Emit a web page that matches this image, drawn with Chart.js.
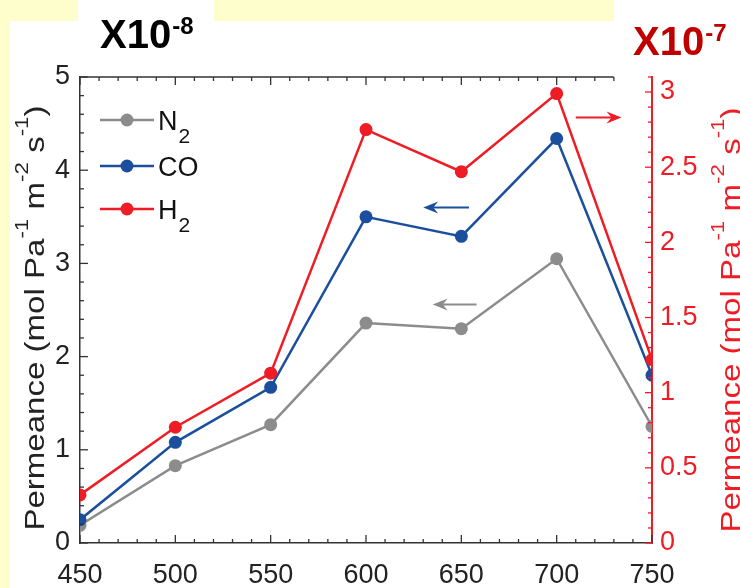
<!DOCTYPE html>
<html>
<head>
<meta charset="utf-8">
<script src="https://cdn.jsdelivr.net/npm/chart.js@4.4.0/dist/chart.umd.min.js"></script>
<style>
  html, body { margin: 0; padding: 0; background: #fff; }
  #wrap { width: 740px; height: 588px; }
</style>
</head>
<body>
<div id="wrap"><canvas id="chart" width="740" height="588"></canvas></div>
<script>
// temperature (x) and permeance values
const temperatures = [450, 500, 550, 600, 650, 700, 750];
const n2Permeance = [0.19, 0.83, 1.27, 2.36, 2.30, 3.05, 1.25]; // x10^-8, left axis
const coPermeance = [0.25, 1.08, 1.67, 3.50, 3.29, 4.34, 1.80]; // x10^-8, left axis
const h2Permeance = [0.32, 0.77, 1.13, 2.75, 2.47, 2.99, 1.22]; // x10^-7, right axis
const seriesNames = ['N2', 'CO', 'H2'];

const xTicks = [450, 500, 550, 600, 650, 700, 750];
const leftTicks = [0, 1, 2, 3, 4, 5];
const rightTicks = [0, 0.5, 1, 1.5, 2, 2.5, 3];

const GRAY = '#8c8c8c';
const BLUE = '#1b4f9e';
const RED = '#ee1d25';
const AXIS = '#333333';
const FONT = "'Liberation Sans', Arial, sans-serif";

// little direction arrows, in data units
const arrows = [
  { from: 658, to: 635, y: 2.56, axis: 'y', color: GRAY },
  { from: 654, to: 630, y: 3.60, axis: 'y', color: BLUE },
  { from: 710, to: 734, y: 2.83, axis: 'y2', color: RED }
];

const toPoints = vals => temperatures.map((t, i) => ({ x: t, y: vals[i] }));

function drawParts(ctx, parts, size, color) {
  // parts: [text, isSup]; drawn centred on 0,0 in the current frame
  const big = size + 'px ' + FONT, small = Math.round(size * 0.68) + 'px ' + FONT;
  let w = 0;
  parts.forEach(p => { ctx.font = p[1] ? small : big; w += ctx.measureText(p[0]).width; });
  let x = -w / 2;
  ctx.fillStyle = color;
  ctx.textBaseline = 'alphabetic';
  ctx.textAlign = 'left';
  parts.forEach(p => {
    ctx.font = p[1] ? small : big;
    ctx.fillText(p[0], x, p[1] ? -size * 0.2 : size * 0.36);
    x += ctx.measureText(p[0]).width;
  });
}

const titleParts = [
  ['Permeance (mol Pa', false], ['-1', true], [' m', false], ['-2', true],
  [' s', false], ['-1', true], [')', false]
];

const decor = {
  id: 'decor',
  beforeDraw(chart) {
    const ctx = chart.ctx;
    ctx.save();
    ctx.fillStyle = '#fefdcc';
    ctx.fillRect(0, 0, 740, 588);
    ctx.fillStyle = '#ffffff';
    ctx.fillRect(10, 21, 730, 567);
    ctx.fillRect(78, 0, 136, 21);
    ctx.fillRect(614, 0, 126, 21);
    ctx.restore();
  },
  afterDraw(chart) {
    const ctx = chart.ctx;
    const { x, y, y2 } = chart.scales;
    const a = chart.chartArea;
    ctx.save();
    ctx.lineCap = 'butt';

    // top frame line (cut short, like the source figure)
    const topEnd = x.getPixelForValue(730);
    ctx.strokeStyle = AXIS;
    ctx.lineWidth = 1.5;
    ctx.beginPath();
    ctx.moveTo(a.left, a.top);
    ctx.lineTo(topEnd, a.top);
    ctx.stroke();

    // x ticks (bottom and top, pointing inward)
    ctx.lineWidth = 1.3;
    for (let v = 450; v <= 750; v += 10) {
      const px = x.getPixelForValue(v);
      const len = v % 50 === 0 ? 8 : 4;
      ctx.beginPath();
      ctx.moveTo(px, a.bottom); ctx.lineTo(px, a.bottom - len);
      if (px <= topEnd) { ctx.moveTo(px, a.top); ctx.lineTo(px, a.top + len); }
      ctx.stroke();
    }
    // left ticks
    for (let i = 0; i <= 25; i++) {
      const py = y.getPixelForValue(i / 5);
      const len = i % 5 === 0 ? 8 : 4;
      ctx.beginPath();
      ctx.moveTo(a.left, py); ctx.lineTo(a.left + len, py);
      ctx.stroke();
    }
    // right ticks (red)
    ctx.strokeStyle = RED;
    for (let i = 0; i <= 31; i++) {
      const py = y2.getPixelForValue(i / 10);
      const len = i % 5 === 0 ? 7 : 4;
      ctx.beginPath();
      ctx.moveTo(a.right, py); ctx.lineTo(a.right - len, py);
      ctx.stroke();
    }

    // arrows
    arrows.forEach(ar => {
      const sc = chart.scales[ar.axis];
      const x0 = x.getPixelForValue(ar.from), x1 = x.getPixelForValue(ar.to);
      const py = sc.getPixelForValue(ar.y);
      const dir = Math.sign(x1 - x0);
      ctx.strokeStyle = ar.color;
      ctx.fillStyle = ar.color;
      ctx.lineWidth = 2;
      ctx.beginPath();
      ctx.moveTo(x0, py); ctx.lineTo(x1 - dir * 6, py);
      ctx.stroke();
      ctx.beginPath();
      ctx.moveTo(x1, py);
      ctx.lineTo(x1 - dir * 15, py - 6);
      ctx.lineTo(x1 - dir * 10, py);
      ctx.lineTo(x1 - dir * 15, py + 6);
      ctx.closePath();
      ctx.fill();
    });

    // legend
    const colors = [GRAY, BLUE, RED];
    const rows = [120, 166, 209];
    seriesNames.forEach((name, i) => {
      const ly = rows[i];
      ctx.strokeStyle = colors[i];
      ctx.fillStyle = colors[i];
      ctx.lineWidth = 2.5;
      ctx.beginPath();
      ctx.moveTo(100, ly); ctx.lineTo(154, ly);
      ctx.stroke();
      ctx.beginPath();
      ctx.arc(127, ly, 6.5, 0, Math.PI * 2);
      ctx.fill();
      const m = name.match(/^(\D+)(\d*)$/);
      ctx.fillStyle = '#111';
      ctx.textAlign = 'left';
      ctx.textBaseline = 'alphabetic';
      ctx.font = '27px ' + FONT;
      ctx.fillText(m[1], 158, ly + 10);
      if (m[2]) {
        const w = ctx.measureText(m[1]).width;
        ctx.font = '21px ' + FONT;
        ctx.fillText(m[2], 158 + w + 1, ly + 23);
      }
    });

    // axis titles (stretched along their length like the source)
    ctx.save();
    ctx.translate(34, 318);
    ctx.rotate(-Math.PI / 2);
    ctx.scale(1.18, 1);
    drawParts(ctx, titleParts, 28, '#222');
    ctx.restore();
    ctx.save();
    ctx.translate(730, 320);
    ctx.rotate(-Math.PI / 2);
    ctx.scale(1.18, 1);
    drawParts(ctx, titleParts, 28, RED);
    ctx.restore();

    // scale multipliers
    const mult = (base, exp, x0, yb, color) => {
      ctx.fillStyle = color;
      ctx.textAlign = 'left';
      ctx.textBaseline = 'alphabetic';
      ctx.font = "bold 40px 'Liberation Sans Narrow', 'Liberation Sans', sans-serif";
      ctx.fillText(base, x0, yb);
      const w = ctx.measureText(base).width;
      ctx.font = "bold 24px 'Liberation Sans Narrow', 'Liberation Sans', sans-serif";
      ctx.fillText(exp, x0 + w + 1, yb - 14);
    };
    mult('X10', '-8', 100, 48, '#000');
    mult('X10', '-7', 633, 55, '#c00000');

    ctx.restore();
  }
};

const tickFont = { family: FONT, size: 27 };

new Chart(document.getElementById('chart'), {
  type: 'line',
  data: {
    datasets: [
      { label: seriesNames[2], data: toPoints(h2Permeance), yAxisID: 'y2', borderColor: RED, backgroundColor: RED, order: 0 },
      { label: seriesNames[1], data: toPoints(coPermeance), yAxisID: 'y', borderColor: BLUE, backgroundColor: BLUE, order: 1 },
      { label: seriesNames[0], data: toPoints(n2Permeance), yAxisID: 'y', borderColor: GRAY, backgroundColor: GRAY, order: 2 }
    ]
  },
  options: {
    responsive: false,
    animation: false,
    devicePixelRatio: 1,
    layout: { padding: { top: 77, left: 0, right: 0, bottom: 0 } },
    elements: {
      line: { borderWidth: 2.5, tension: 0 },
      point: { radius: 6.5, borderWidth: 0, hoverRadius: 6.5 }
    },
    plugins: { legend: { display: false }, tooltip: { enabled: false } },
    scales: {
      x: {
        type: 'linear', min: 450, max: 750,
        afterBuildTicks: s => { s.ticks = xTicks.map(v => ({ value: v })); },
        afterFit: s => { s.height = 45; },
        grid: { display: false, drawTicks: false },
        border: { display: true, color: AXIS, width: 1.5 },
        ticks: { font: tickFont, color: '#222', padding: 16, maxRotation: 0, callback: v => String(v) }
      },
      y: {
        position: 'left', min: 0, max: 5,
        afterBuildTicks: s => { s.ticks = leftTicks.map(v => ({ value: v })); },
        afterFit: s => { s.width = 80; },
        grid: { display: false, drawTicks: false },
        border: { display: true, color: AXIS, width: 1.5 },
        ticks: { font: tickFont, color: '#222', padding: 10, callback: v => String(v) }
      },
      y2: {
        position: 'right', min: 0, max: 3.1,
        afterBuildTicks: s => { s.ticks = rightTicks.map(v => ({ value: v })); },
        afterFit: s => { s.width = 88; },
        grid: { display: false, drawTicks: false },
        border: { display: true, color: RED, width: 2 },
        ticks: { font: tickFont, color: RED, padding: 8, callback: v => String(v) }
      }
    }
  },
  plugins: [decor]
});
</script>
</body>
</html>
